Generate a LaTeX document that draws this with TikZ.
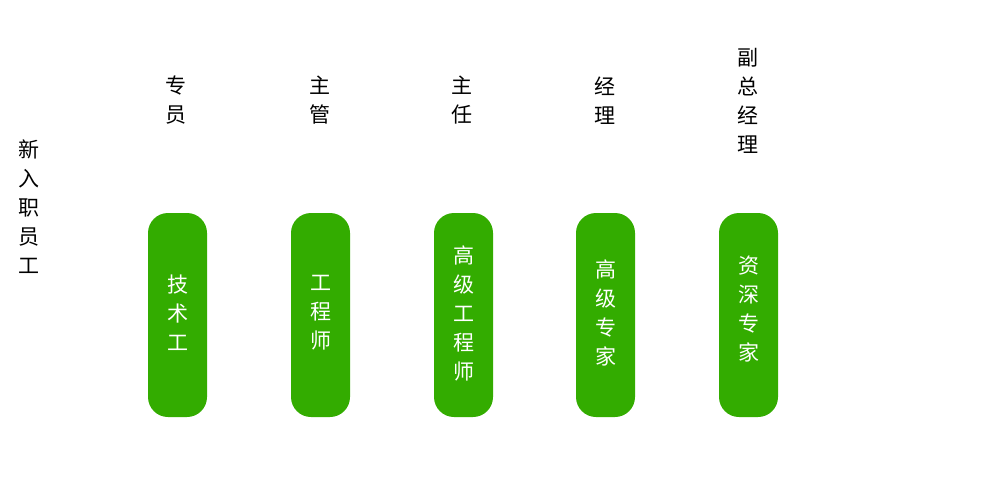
\documentclass[tikz,border=0pt]{standalone}
\usepackage{fontspec}
\setmainfont{Noto Sans CJK SC}
\definecolor{boxgreen}{HTML}{33AC00}
\begin{document}
\begin{tikzpicture}[x=1pt,y=-1pt,
  lbl/.style={align=center,inner sep=0pt,font=\fontsize{21}{29}\selectfont,text=black},
  gbox/.style={fill=boxgreen,rounded corners=20pt,minimum width=59pt,minimum height=204pt,inner sep=0pt,draw=none},
  btxt/.style={lbl,text=white}]
\useasboundingbox (0,0) rectangle (1000,487);
\node[lbl] (new) at (29,206.5) {新\\入\\职\\员\\工};
\node[lbl] (t1) at (176,100.5) {专\\员};
\node[lbl] (t2) at (320,100.5) {主\\管};
\node[lbl] (t3) at (462,100.5) {主\\任};
\node[lbl] (t4) at (605,100.5) {经\\理};
\node[lbl] (t5) at (748,100.5) {副\\总\\经\\理};
\node[gbox] (b1) at (177.5,315) {};
\node[gbox] (b2) at (320.5,315) {};
\node[gbox] (b3) at (463.5,315) {};
\node[gbox] (b4) at (605.5,315) {};
\node[gbox] (b5) at (748.5,315) {};
\node[btxt] (l1) at ([yshift=2pt]b1) {技\\术\\工};
\node[btxt] (l2) at ([yshift=2pt]b2) {工\\程\\师};
\node[btxt] (l3) at ([yshift=2pt]b3) {高\\级\\工\\程\\师};
\node[btxt] (l4) at ([yshift=2pt]b4) {高\\级\\专\\家};
\node[btxt] (l5) at ([yshift=6pt]b5) {资\\深\\专\\家};
\end{tikzpicture}
\end{document}
